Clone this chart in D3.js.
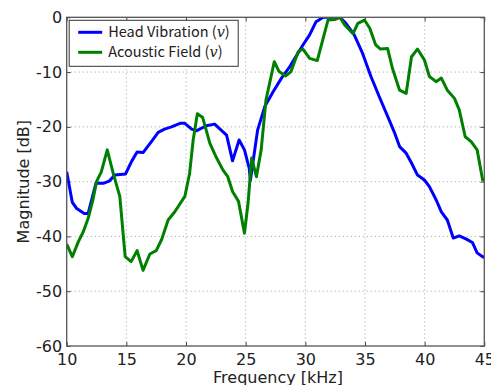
<!DOCTYPE html>
<html>
<head>
<meta charset="utf-8">
<script src="https://cdn.jsdelivr.net/npm/d3@7"></script>
<style>
  body { margin: 0; background: #fff; }
  text { font-family: "Noto Sans CJK JP", "Noto Sans", sans-serif; fill: #222; }
</style>
</head>
<body>
<div id="chart"></div>
<script>
const width = 491, height = 385;
const margin = { top: 17.3, right: 6.7, bottom: 39, left: 66.7 };
const innerWidth = width - margin.left - margin.right;
const innerHeight = height - margin.top - margin.bottom;

const xTicks = [10, 15, 20, 25, 30, 35, 40, 45];
const yTicks = [0, -10, -20, -30, -40, -50, -60];

// Head Vibration (blue): frequency [kHz], magnitude [dB]
const headFreq = [10, 10.47, 10.84, 11.47, 11.8, 12.45, 13.06, 13.56, 14.04, 14.93, 15.44, 15.9, 16.4, 17.1, 17.67, 18.2, 18.78, 19.5, 19.9, 20.47, 20.9, 21.7, 22.4, 23.4, 23.9, 24.45, 24.9, 25.3, 25.4, 26.0, 26.6, 27.3, 28.0, 28.7, 29.8, 30.36, 30.9, 31.5, 32.6, 32.9, 33.4, 34.1, 34.8, 35.5, 36.2, 36.9, 37.5, 37.9, 38.45, 38.9, 39.4, 39.98, 40.4, 40.96, 41.4, 41.9, 42.4, 42.9, 43.5, 44.0, 44.4, 44.86, 45];
const headMag = [-28.2, -33.8, -34.9, -35.8, -35.8, -30.3, -30.3, -29.9, -28.8, -28.6, -26.3, -24.6, -24.7, -22.7, -21.0, -20.4, -20.0, -19.35, -19.35, -20.4, -20.7, -19.8, -19.5, -21.5, -26.2, -22.4, -24.2, -27.6, -29.7, -20.6, -16.3, -13.6, -11.1, -9.0, -5.05, -3.2, -0.8, 0, 0, 0, -1.1, -3.2, -6.6, -10.8, -14.5, -18.1, -21.2, -23.6, -24.8, -26.6, -28.8, -29.7, -30.9, -33.3, -35.5, -37.0, -40.3, -39.9, -40.5, -41.1, -43.0, -43.7, -43.8];

// Acoustic Field (green)
const acousticFreq = [10, 10.47, 10.97, 11.4, 11.8, 12.2, 12.5, 12.9, 13.4, 13.9, 14.45, 14.9, 15.4, 15.9, 16.4, 16.97, 17.5, 17.95, 18.5, 19.06, 19.9, 20.3, 20.6, 20.95, 21.4, 22.0, 22.5, 23.1, 23.5, 23.9, 24.4, 24.9, 25.2, 25.5, 25.9, 26.3, 26.7, 27.4, 27.8, 28.36, 28.8, 29.4, 29.8, 30.36, 31.0, 31.5, 31.9, 32.5, 32.9, 33.3, 34.0, 34.4, 34.96, 35.4, 35.9, 36.3, 36.9, 37.3, 37.9, 38.45, 38.9, 39.4, 39.98, 40.4, 40.96, 41.4, 41.9, 42.5, 42.9, 43.4, 43.9, 44.4, 44.86, 45];
const acousticMag = [-41.4, -43.7, -41.0, -39.1, -36.7, -33.3, -30.0, -28.2, -24.2, -28.5, -32.7, -43.7, -44.6, -42.6, -46.2, -43.2, -42.6, -40.6, -37.0, -35.5, -32.7, -28.5, -22.4, -17.6, -18.3, -23.0, -25.4, -27.9, -29.1, -31.8, -33.6, -39.4, -33.9, -25.7, -29.1, -24.2, -15.1, -8.1, -9.9, -10.7, -9.9, -6.3, -5.8, -7.5, -7.9, -3.8, -0.5, -0.4, 0, -1.4, -3.0, -1.1, -0.5, -2.0, -5.05, -5.8, -5.7, -9.3, -13.3, -13.9, -7.2, -5.8, -7.8, -10.8, -11.75, -11.1, -13.3, -14.8, -16.9, -21.8, -22.7, -24.2, -29.7, -29.7];

const series = [
  { name: "Head Vibration", color: "#0000ff", freq: headFreq, mag: headMag },
  { name: "Acoustic Field", color: "#008000", freq: acousticFreq, mag: acousticMag }
];

const xScale = d3.scaleLinear().domain([10, 45]).range([0, innerWidth]);
const yScale = d3.scaleLinear().domain([-60, 0]).range([innerHeight, 0]);

const svg = d3.select("#chart")
  .append("svg")
  .attr("width", width)
  .attr("height", height);

const inner = svg.append("g")
  .attr("transform", `translate(${margin.left},${margin.top})`);

// dotted grid
inner.append("g")
  .selectAll("line")
  .data(xTicks.slice(1, -1))
  .join("line")
    .attr("x1", d => xScale(d)).attr("x2", d => xScale(d))
    .attr("y1", 0).attr("y2", innerHeight)
    .attr("stroke", "#b0b0b0").attr("stroke-width", 1)
    .attr("stroke-dasharray", "1.2,2.8");

inner.append("g")
  .selectAll("line")
  .data(yTicks.slice(1, -1))
  .join("line")
    .attr("x1", 0).attr("x2", innerWidth)
    .attr("y1", d => yScale(d)).attr("y2", d => yScale(d))
    .attr("stroke", "#b0b0b0").attr("stroke-width", 1)
    .attr("stroke-dasharray", "1.2,2.8");

// axes: labels outside, short ticks inside on all four sides
const tickFont = g => g.selectAll("text")
  .style("font-size", "16px")
  .style("font-family", "'DejaVu Sans', sans-serif")
  .attr("fill", "#2a2a2a");

inner.append("g")
  .attr("transform", `translate(0,${innerHeight})`)
  .call(d3.axisBottom(xScale).tickValues(xTicks).tickSize(-4).tickPadding(8).tickFormat(d3.format("d")))
  .call(g => g.select(".domain").remove())
  .call(g => g.selectAll("line").attr("stroke", "#444"))
  .call(tickFont);

inner.append("g")
  .call(d3.axisTop(xScale).tickValues(xTicks).tickSize(-4).tickFormat(""))
  .call(g => g.select(".domain").remove())
  .call(g => g.selectAll("line").attr("stroke", "#444"));

inner.append("g")
  .call(d3.axisLeft(yScale).tickValues(yTicks).tickSize(-4).tickPadding(4.5).tickFormat(d => String(d)))
  .call(g => g.select(".domain").remove())
  .call(g => g.selectAll("line").attr("stroke", "#444"))
  .call(tickFont);

inner.append("g")
  .attr("transform", `translate(${innerWidth},0)`)
  .call(d3.axisRight(yScale).tickValues(yTicks).tickSize(-4).tickFormat(""))
  .call(g => g.select(".domain").remove())
  .call(g => g.selectAll("line").attr("stroke", "#444"));

// lines
const line = d3.line()
  .x(d => xScale(d[0]))
  .y(d => yScale(d[1]));

inner.append("defs").append("clipPath").attr("id", "clip")
  .append("rect").attr("width", innerWidth).attr("height", innerHeight);

inner.append("g")
  .attr("clip-path", "url(#clip)")
  .selectAll("path")
  .data(series)
  .join("path")
    .attr("d", s => line(d3.zip(s.freq, s.mag)))
    .attr("fill", "none")
    .attr("stroke", s => s.color)
    .attr("stroke-width", 3)
    .attr("stroke-linejoin", "round");

// frame
inner.append("rect")
  .attr("width", innerWidth).attr("height", innerHeight)
  .attr("fill", "none").attr("stroke", "#555").attr("stroke-width", 1.3);

// legend
const legend = inner.append("g").attr("transform", "translate(2.5,3)");
legend.append("rect")
  .attr("width", 169).attr("height", 46)
  .attr("fill", "#fff").attr("stroke", "#333").attr("stroke-width", 1);

const entry = legend.selectAll("g.entry")
  .data(series)
  .join("g")
    .attr("class", "entry")
    .attr("transform", (d, i) => `translate(0,${12 + i * 20})`);

entry.append("line")
  .attr("x1", 9).attr("x2", 33)
  .attr("stroke", d => d.color).attr("stroke-width", 3);

const label = entry.append("text")
  .attr("x", 39).attr("y", 5)
  .style("font-size", "14.5px");
label.append("tspan").text(d => d.name + " (");
label.append("tspan").text("v")
  .style("font-family", "'DejaVu Serif', 'Liberation Serif', serif")
  .style("font-style", "italic");
label.append("tspan").text(")");

// axis labels
svg.append("text")
  .attr("text-anchor", "middle")
  .attr("x", 278).attr("y", 383)
  .style("font-size", "16px")
  .style("font-family", "'DejaVu Sans', sans-serif")
  .attr("fill", "#2a2a2a")
  .text("Frequency [kHz]");

svg.append("text")
  .attr("text-anchor", "middle")
  .attr("transform", `translate(29,${margin.top + innerHeight / 2}) rotate(-90)`)
  .style("font-size", "16px")
  .style("font-family", "'DejaVu Sans', sans-serif")
  .attr("fill", "#2a2a2a")
  .text("Magnitude [dB]");
</script>
</body>
</html>
